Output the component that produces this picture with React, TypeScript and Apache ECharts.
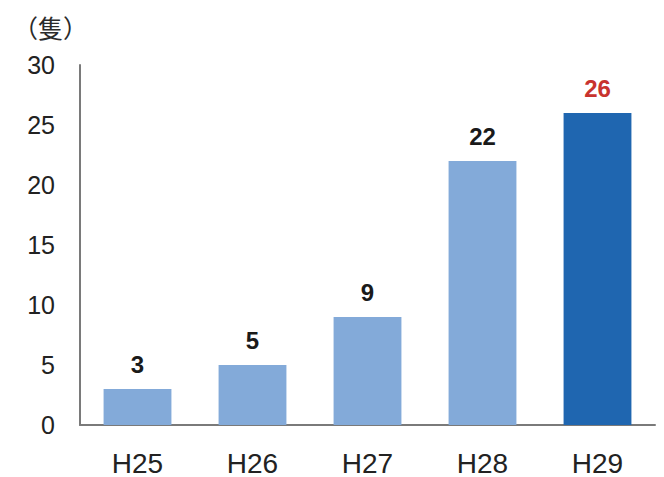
import React, { useEffect, useRef } from "react";
import * as echarts from "echarts";

const categories = ["H25", "H26", "H27", "H28", "H29"];
const values = [3, 5, 9, 22, 26];
const barColors = ["#83aad9", "#83aad9", "#83aad9", "#83aad9", "#1f66b0"];
const labelColors = ["#1a1a1a", "#1a1a1a", "#1a1a1a", "#1a1a1a", "#c8332e"];
const unitLabel = "（隻）";

export default function App() {
  const ref = useRef<HTMLDivElement>(null);
  useEffect(() => {
    const chart = echarts.init(ref.current!, null, { renderer: "svg" });
    chart.setOption({
      animation: false,
      backgroundColor: "#ffffff",
      graphic: [
        {
          type: "text",
          left: 13,
          top: 14,
          style: {
            text: unitLabel,
            fontSize: 25,
            fontFamily: "Noto Sans CJK JP",
            fill: "#2a2a2a",
          },
        },
      ],
      grid: { left: 80, right: 9, top: 65, bottom: 52, containLabel: false },
      xAxis: {
        type: "category",
        data: categories,
        axisLine: { lineStyle: { color: "#7a7a7a", width: 2 } },
        axisTick: { show: false },
        axisLabel: {
          margin: 24,
          fontSize: 28,
          color: "#222",
          fontFamily: "Liberation Sans, Arial, sans-serif",
        },
      },
      yAxis: {
        type: "value",
        min: 0,
        max: 30,
        interval: 5,
        splitLine: { show: false },
        axisLine: { show: true, lineStyle: { color: "#7a7a7a", width: 2 } },
        axisTick: { show: false },
        axisLabel: {
          margin: 25,
          fontSize: 25,
          color: "#222",
          fontFamily: "Liberation Sans, Arial, sans-serif",
        },
      },
      series: [
        {
          type: "bar",
          barWidth: "59%",
          data: values.map((v, i) => ({
            value: v,
            itemStyle: { color: barColors[i] },
            label: { color: labelColors[i] },
          })),
          label: {
            show: true,
            position: "top",
            distance: 13,
            fontSize: 24,
            fontWeight: "bold",
            fontFamily: "Liberation Sans, Arial, sans-serif",
          },
        },
      ],
    });
    return () => chart.dispose();
  }, []);
  return (
    <div
      ref={ref}
      style={{ position: "fixed", left: 0, top: 0, width: 664, height: 477 }}
    />
  );
}
